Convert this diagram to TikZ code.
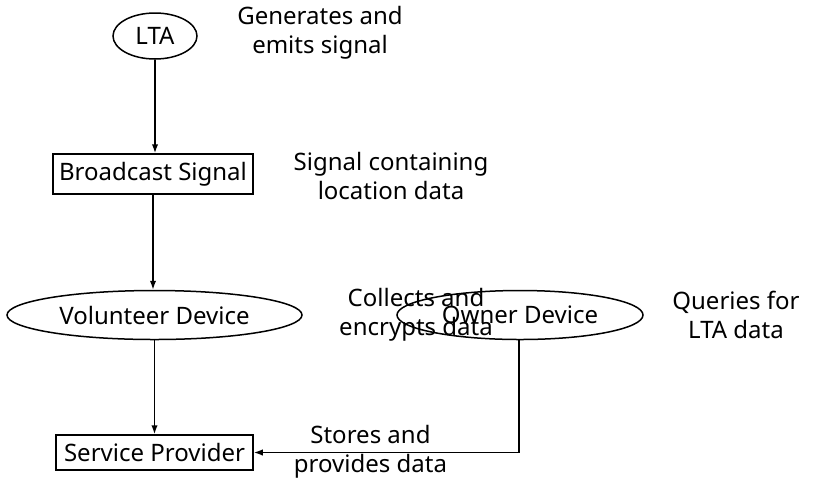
\documentclass[tikz,border=0pt]{standalone}
\usepackage{fontspec}
\setmainfont{Noto Sans}
\usetikzlibrary{shapes.geometric,arrows.meta}
\begin{document}
\begin{tikzpicture}[
  x=0.5pt, y=-0.5pt,
  line width=0.75pt,
  >={Latex[length=4.5pt,width=3.2pt]},
  every node/.style={font=\fontsize{12}{14.5}\selectfont, inner sep=0pt},
  oval/.style={draw, ellipse, line width=0.75pt},
  box/.style={draw, rectangle, line width=0.75pt},
  note/.style={align=center}
]
\useasboundingbox (0,0) rectangle (813,478);

\node[oval, minimum width=42pt, minimum height=23pt]      (lta)  at (155,36)    {LTA};
\node[box,  minimum width=100pt, minimum height=20pt]     (bcast) at (153,174)  {Broadcast Signal};
\node[oval, minimum width=147.5pt, minimum height=24.5pt] (vol)  at (154.5,315) {Volunteer Device};
\node[oval, minimum width=123pt, minimum height=24.5pt]   (own)  at (520,315)   {Owner Device};
\node[box,  minimum width=98.5pt, minimum height=17.5pt]  (sp)   at (154.5,452.5) {Service Provider};

\node[note] (ltanote)  at (320,33)  {Generates and\\emits signal};
\node[note] (bcnote)   at (391,176) {Signal containing\\location data};
\node[note] (volnote)  at (416,315) {Collects and\\encrypts data};
\node[note] (ownnote)  at (736,315) {Queries for\\LTA data};

\draw[->] (lta) -- (lta |- bcast.north);
\draw[->] (bcast) -- (bcast |- vol.north);
\draw[->] (vol) -- (vol |- sp.north);
\draw[->] (own.south -| 519,0) |- node[note, pos=0.78, yshift=0.5pt] (spnote) {Stores and\\provides data} (sp.east);
\end{tikzpicture}
\end{document}
